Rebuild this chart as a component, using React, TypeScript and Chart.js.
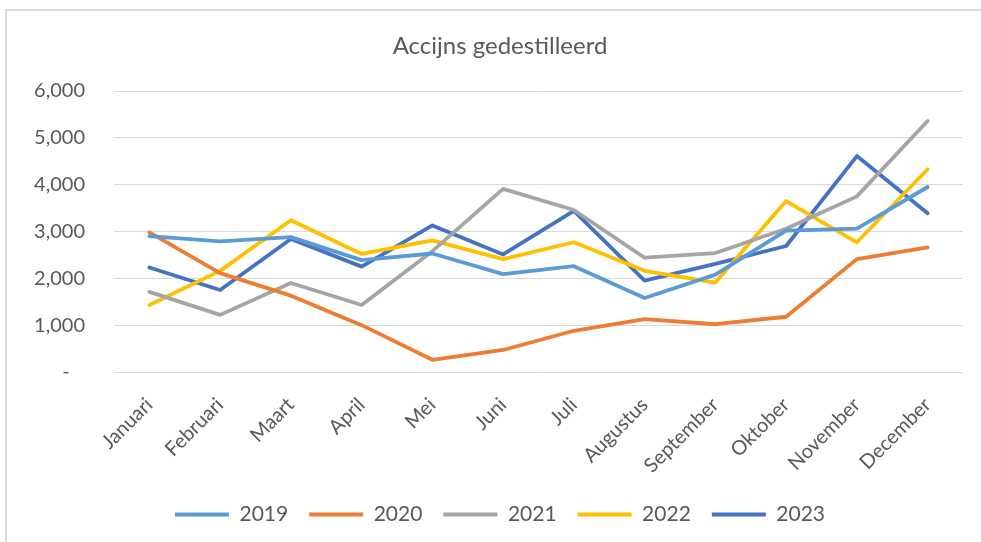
import { useEffect, useRef } from 'react';
import { Chart, registerables } from 'chart.js';

Chart.register(...registerables);

const TITLE = 'Accijns gedestilleerd';
const MONTHS = ['Januari', 'Februari', 'Maart', 'April', 'Mei', 'Juni', 'Juli', 'Augustus', 'September', 'Oktober', 'November', 'December'];
const YEARS = ['2019', '2020', '2021', '2022', '2023'];
const COLORS = ['#5B9BD5', '#ED7D31', '#A5A5A5', '#FFC000', '#4472C4'];

const V2019 = [2900, 2790, 2880, 2390, 2530, 2090, 2260, 1580, 2080, 3020, 3060, 3950];
const V2020 = [2980, 2110, 1630, 1000, 260, 470, 880, 1130, 1020, 1180, 2410, 2660];
const V2021 = [1710, 1220, 1900, 1430, 2580, 3910, 3460, 2440, 2540, 3060, 3750, 5360];
const V2022 = [1430, 2160, 3240, 2520, 2810, 2410, 2770, 2160, 1910, 3650, 2770, 4330];
const V2023 = [2230, 1750, 2840, 2250, 3130, 2510, 3440, 1950, 2310, 2690, 4610, 3390];
const SERIES = [V2019, V2020, V2021, V2022, V2023];

const Y_MIN = 0;
const Y_MAX = 6000;
const Y_STEP = 1000;

const FONT = 'Lato, "Open Sans", sans-serif';
const TEXT = '#595959';
const GRID = '#d9d9d9';

export default function App() {
  const ref = useRef<HTMLCanvasElement | null>(null);

  useEffect(() => {
    if (!ref.current) return;
    const chart = new Chart(ref.current, {
      type: 'line',
      data: {
        labels: MONTHS,
        datasets: YEARS.map((y, i) => ({
          label: y,
          data: SERIES[i],
          borderColor: COLORS[i],
          backgroundColor: COLORS[i],
          borderWidth: 3.8,
          borderCapStyle: 'round' as const,
          borderJoinStyle: 'round' as const,
          pointRadius: 0,
          pointHoverRadius: 0,
          tension: 0,
          fill: false,
        })),
      },
      options: {
        animation: false,
        responsive: false,
        devicePixelRatio: 1,
        layout: { padding: { top: 0, left: 0, right: 0, bottom: 7 } },
        plugins: {
          title: {
            display: true,
            text: TITLE,
            color: TEXT,
            font: { family: FONT, size: 24, weight: 'normal' as const, lineHeight: 1.2 },
            padding: { top: 32, bottom: 30.2 },
          },
          legend: {
            position: 'bottom',
            labels: {
              usePointStyle: true,
              pointStyle: 'line',
              pointStyleWidth: 54,
              color: TEXT,
              font: { family: FONT, size: 21 },
              padding: 21,
            },
          },
          tooltip: { enabled: false },
        },
        scales: {
          x: {
            type: 'category',
            offset: true,
            grid: { display: false },
            border: { display: false },
            ticks: {
              color: TEXT,
              font: { family: FONT, size: 20 },
              minRotation: 45,
              maxRotation: 45,
              autoSkip: false,
              padding: 13,
            },
            afterFit: (s: any) => { s.height = 111; },
          },
          y: {
            type: 'linear',
            min: Y_MIN,
            max: Y_MAX,
            grid: { color: GRID, lineWidth: 1, drawTicks: false },
            border: { display: false },
            ticks: {
              stepSize: Y_STEP,
              color: TEXT,
              font: { family: FONT, size: 20 },
              padding: 29,
              callback: (v: any) => (Number(v) === 0 ? '-   ' : Number(v).toLocaleString('en-US')),
            },
            afterFit: (s: any) => { s.width = 114; },
          },
          yRight: {
            type: 'linear',
            position: 'right',
            display: true,
            grid: { display: false, drawTicks: false },
            border: { display: false },
            ticks: { display: false },
            afterFit: (s: any) => { s.width = 37; },
          },
        },
      },
    });
    return () => chart.destroy();
  }, []);

  return (
    <div style={{ position: 'fixed', left: 0, top: 0, width: 981, height: 542, overflow: 'hidden', background: '#fff' }}>
      <canvas ref={ref} width={1000} height={542} style={{ display: 'block', width: 1000, height: 542 }} />
      <div
        style={{
          position: 'absolute',
          left: 5,
          top: 9,
          right: -50,
          bottom: -50,
          borderLeft: `2px solid ${GRID}`,
          borderTop: `2px solid ${GRID}`,
          pointerEvents: 'none',
        }}
      />
    </div>
  );
}
